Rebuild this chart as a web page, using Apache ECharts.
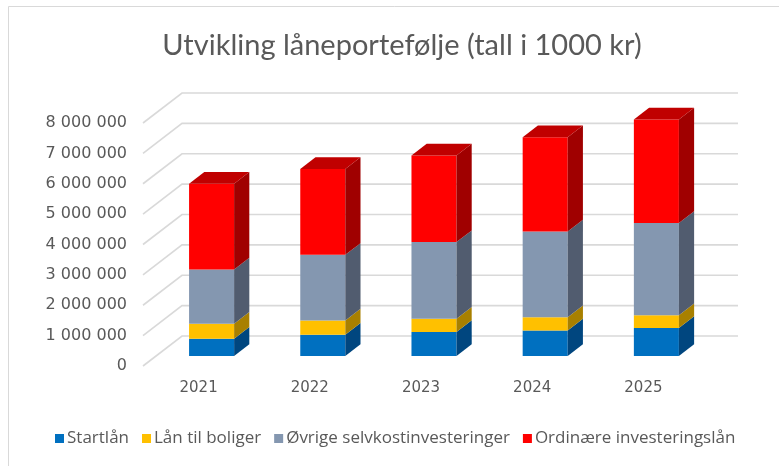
<!DOCTYPE html>
<html>
<head>
<meta charset="utf-8">
<script src="https://cdn.jsdelivr.net/npm/echarts@6/dist/echarts.min.js"></script>
<style>
  html, body { margin: 0; padding: 0; background: #fff; }
  #chart { width: 779px; height: 466px; }
</style>
</head>
<body>
<div id="chart"></div>
<script>
// Loan portfolio by year (thousand NOK), stacked
const years = ['2021', '2022', '2023', '2024', '2025'];
const startlan = [570000, 700000, 790000, 840000, 920000];
const lanBoliger = [490000, 470000, 440000, 440000, 420000];
const ovrige = [1790000, 2160000, 2520000, 2820000, 3040000];
const ordinaere = [2820000, 2830000, 2850000, 3100000, 3410000];
const yTicks = [0, 1000000, 2000000, 3000000, 4000000, 5000000, 6000000, 7000000, 8000000];

const seriesDefs = [
  { name: 'Startlån', values: startlan, front: '#0070C0', side: '#00467F', top: '#005A9C' },
  { name: 'Lån til boliger', values: lanBoliger, front: '#FFC000', side: '#A88000', top: '#D9A300' },
  { name: 'Øvrige selvkostinvesteringer', values: ovrige, front: '#8497B0', side: '#515C6F', top: '#6A7A90' },
  { name: 'Ordinære investeringslån', values: ordinaere, front: '#FF0000', side: '#A00000', top: '#C00000' }
];

// 3D projection: back wall offset, bar placement in depth
const WALL_DX = 39, WALL_DY = 30;
const BAR_Z0 = 0.333, BAR_DEPTH = 0.39;
const BAR_WIDTH_RATIO = 0.405;

const fmt = v => String(v).replace(/\B(?=(\d{3})+(?!\d))/g, ' ');

const chart = echarts.init(document.getElementById('chart'));

// Stacked bases
const bases = years.map(() => 0);
const series = [];

// Floor/wall gridlines
series.push({
  type: 'custom',
  name: '_grid',
  silent: true,
  z: 1,
  data: yTicks.map(v => [0, v]),
  renderItem: function (params, api) {
    const cs = params.coordSys;
    const y = api.coord([0, api.value(1)])[1];
    const x0 = cs.x;
    return {
      type: 'polyline',
      shape: { points: [[x0, y], [x0 + WALL_DX, y - WALL_DY], [x0 + cs.width + WALL_DX, y - WALL_DY]] },
      style: { stroke: '#D9D9D9', lineWidth: 1.6, fill: null }
    };
  }
});

seriesDefs.forEach((def, si) => {
  const data = def.values.map((v, i) => {
    const b = bases[i];
    bases[i] += v;
    return [i, b, b + v];
  });
  const isTop = si === seriesDefs.length - 1;
  series.push({
    type: 'custom',
    name: def.name,
    z: 2,
    itemStyle: { color: def.front },
    encode: { x: 0, y: [1, 2] },
    data: data,
    renderItem: function (params, api) {
      const ci = api.value(0);
      const pb = api.coord([ci, api.value(1)]);
      const pt = api.coord([ci, api.value(2)]);
      const band = api.size([1, 0])[0];
      const w = band * BAR_WIDTH_RATIO;
      const ox = WALL_DX * BAR_Z0, oy = WALL_DY * BAR_Z0;
      const dx = WALL_DX * BAR_DEPTH, dy = WALL_DY * BAR_DEPTH;
      const xl = pb[0] + ox - w / 2, xr = xl + w;
      const yb = pb[1] - oy, yt = pt[1] - oy;
      const children = [
        { type: 'rect', shape: { x: xl, y: yt, width: w, height: yb - yt }, style: { fill: def.front } },
        { type: 'polygon', shape: { points: [[xr, yb], [xr + dx, yb - dy], [xr + dx, yt - dy], [xr, yt]] }, style: { fill: def.side } }
      ];
      if (isTop) {
        children.push({ type: 'polygon', shape: { points: [[xl, yt], [xr, yt], [xr + dx, yt - dy], [xl + dx, yt - dy]] }, style: { fill: def.top } });
      }
      return { type: 'group', children: children };
    }
  });
});

chart.setOption({
  animation: false,
  backgroundColor: '#fff',
  title: {
    text: 'Utvikling låneportefølje (tall i 1000 kr)',
    left: 397,
    textAlign: 'center',
    top: 26,
    textStyle: { fontFamily: 'Lato', fontSize: 29, fontWeight: 'normal', color: '#595959' }
  },
  legend: {
    data: seriesDefs.map(d => ({ name: d.name, icon: 'rect', itemStyle: { color: d.front } })),
    left: 50,
    top: 425,
    itemWidth: 9,
    itemHeight: 9,
    itemGap: 13,
    textStyle: { fontFamily: 'Open Sans', fontSize: 17, color: '#595959', padding: [0, 0, 0, -2] }
  },
  grid: { left: 143, top: 123, width: 556, height: 243 },
  xAxis: {
    type: 'category',
    data: years,
    axisLine: { show: false },
    axisTick: { show: false },
    splitLine: { show: false },
    axisLabel: { margin: 15, fontFamily: 'DejaVu Sans', fontSize: 15, color: '#595959' }
  },
  yAxis: {
    type: 'value',
    min: 0,
    max: 8000000,
    interval: 1000000,
    axisLine: { show: false },
    axisTick: { show: false },
    splitLine: { show: false },
    axisLabel: { margin: 16, formatter: fmt, fontFamily: 'DejaVu Sans', fontSize: 16, color: '#595959' }
  },
  graphic: [{
    type: 'rect',
    silent: true,
    shape: { x: 8.5, y: 6.5, width: 800, height: 500 },
    style: { fill: null, stroke: '#D9D9D9', lineWidth: 1 }
  }],
  series: series
});
</script>
</body>
</html>
